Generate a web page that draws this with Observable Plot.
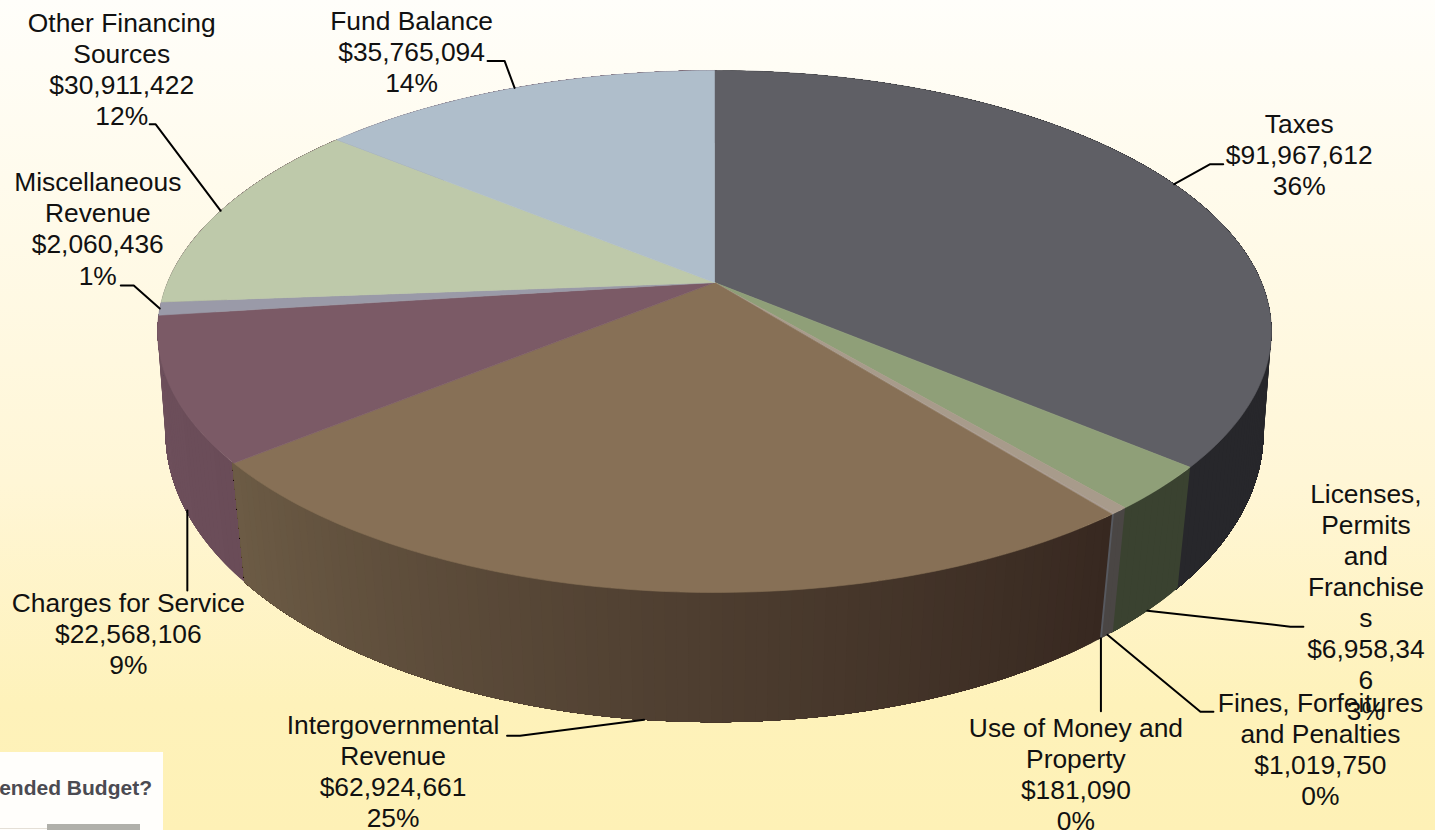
<!DOCTYPE html>
<html>
<head>
<meta charset="utf-8">
<script src="https://cdn.jsdelivr.net/npm/d3@7"></script>
<script src="https://cdn.jsdelivr.net/npm/@observablehq/plot@0.6"></script>
<style>
html,body{margin:0;padding:0;width:1435px;height:830px;overflow:hidden;background:linear-gradient(#fffefa 0%,#fff6d6 58%,#fef2ba 85%,#fef1b6 100%);}
#chart{position:absolute;left:0;top:0;}
#chart svg{background:transparent;display:block;}
#note{position:absolute;left:0;top:752px;width:163px;height:78px;background:#fffefb;overflow:hidden;}
#note span{position:absolute;right:11px;top:24px;white-space:nowrap;font:bold 21px "Liberation Sans",Arial,sans-serif;color:#4b4b52;}
#note i{position:absolute;left:47px;width:93px;top:72px;height:6px;background:#b0b0aa;}
#note b{position:absolute;left:0;width:47px;top:76px;height:1px;background:#e4dfd6;}
</style>
</head>
<body>
<div id="chart"></div>
<div id="note"><span>ended Budget?</span><b></b><i></i></div>
<script>
// ---- data
const names = ["Taxes","Licenses,\nPermits\nand\nFranchises","Fines, Forfeitures\nand Penalties","Use of Money and\nProperty","Intergovernmental\nRevenue","Charges for Service","Miscellaneous\nRevenue","Other Financing\nSources","Fund Balance"];
const values = [91967612,6958346,1019750,181090,62924661,22568106,2060436,30911422,35765094];
const topColors = ["#5f5f65","#8f9f78","#a89b8b","#a89a90","#877056","#7b5a66","#9a9aa8","#bec9aa","#afbecb"];
const sideColorsFrom = ["#27272b","#3a4230","#4a4644","#57595f","#372820","#6a4c58","#6e505c","#6e505c","#6e505c"];
const sideColorsTo   = ["#27272b","#3a4230","#4a4644","#57595f","#6c5b45","#6e505c","#6e505c","#6e505c","#6e505c"];
// leader routes and label centres as pixel offsets from each slice's rim point
const rimFace = ["top","bottom","bottom","bottom","bottom","bottom","top","top","top"];
const leaderRoute = [
  [[0,0],[36,-20],[49,-20]],
  [[0,0],[143,16],[156,16]],
  [[0,0],[93,77],[106,77]],
  [[0,0],[0,73]],
  [[0,0],[-124,16],[-137,16]],
  [[5,7],[5,87]],
  [[0,0],[-26,-23],[-39,-23]],
  [[0,0],[-65,-86.5],[-71,-86.5]],
  [[0,0],[-10,-27],[-27,-27]]
];
const labelOffset = [[125,-30],[218.5,-9],[213,113.5],[-25,135.5],[-251,51],[-54,129],[-62,-80.5],[-99,-142],[-103,-37]];

// ---- perspective view of the two discs of the cylinder
const topDisc = {cx:714, cy:282, b:547, a:251.8, k:0.1877};
const botDisc = {cx:714, cy:384, b:541.5, a:282, k:0.165};
function project(d, deg){
  const t = deg*Math.PI/180, u = Math.sin(t), v = Math.cos(t), s = 1/(1+d.k*v);
  return {x:d.cx+d.b*u*s, y:d.cy-d.a*v*s};
}

const total = d3.sum(values);
const cum = d3.cumsum(values);
const slices = values.map((v,i)=>({i, name:names[i], value:v,
  a0:(i?cum[i-1]:0)/total*360, a1:cum[i]/total*360}));
const arcAngles = (d0,d1)=>{
  const n = Math.max(1,Math.ceil(d1-d0));
  return d3.range(n+1).map(j=>d0+(d1-d0)*j/n);
};

// top faces: one polygon per slice
const topPts = [];
for(const s of slices){
  const c = topColors[s.i];
  topPts.push({z:s.i, x:topDisc.cx, y:topDisc.cy, c});
  for(const a of arcAngles(s.a0,s.a1)){
    const p = project(topDisc,a);
    topPts.push({z:s.i, x:p.x, y:p.y, c});
  }
  topPts.push({z:s.i, x:topDisc.cx, y:topDisc.cy, c});
}

// side wall: slices painted back to front; each slice is a stack of
// polygons that each reach to the slice's end, so no seams show between them
const sidePts = [];
let stripId = 0;
const backToFront = d3.sort(slices, s=>-Math.cos((s.a0+s.a1)/360*Math.PI));
for(const s of backToFront){
  const color = d3.interpolateLab(sideColorsFrom[s.i], sideColorsTo[s.i]);
  const end = s.a1+0.3;
  const n = Math.ceil(s.a1-s.a0);
  for(let j=0;j<n;j++){
    const d0 = s.a0+(s.a1-s.a0)*j/n;
    const c = color((j+.5)/n);
    const angles = arcAngles(d0,end);
    const ring = [...angles.map(a=>project(topDisc,a)),...angles.slice().reverse().map(a=>project(botDisc,a))];
    ring.push(ring[0]);
    ring.forEach(p=>sidePts.push({z:stripId,x:p.x,y:p.y,c}));
    stripId++;
  }
}

// leaders and labels
function hardWrap(text,width){
  return text.split("\n").map(l=>l.length<=width?l:l.match(new RegExp(".{1,"+width+"}","g")).join("\n")).join("\n");
}
const fmtMoney = d3.format("$,"), fmtPct = d3.format(".0%");
const leaderPts = [], labels = [];
for(const s of slices){
  const anchor = project(rimFace[s.i]==="top"?topDisc:botDisc,(s.a0+s.a1)/2);
  leaderRoute[s.i].forEach(o=>leaderPts.push({z:s.i,x:anchor.x+o[0],y:anchor.y+o[1]}));
  let t = s.name+"\n"+fmtMoney(s.value);
  if(s.i===1) t = hardWrap(t,9);
  labels.push({x:anchor.x+labelOffset[s.i][0],y:anchor.y+labelOffset[s.i][1],text:t+"\n"+fmtPct(s.value/total)});
}

const chart = Plot.plot({
  width:1435, height:830, margin:0,
  x:{domain:[0,1435],range:[0,1435],axis:null},
  y:{domain:[0,830],range:[0,830],axis:null},
  color:{type:"identity"},
  style:{background:"transparent"},
  marks:[
    Plot.line(sidePts,{x:"x",y:"y",z:"z",fill:"c",stroke:"none",curve:"linear"}),
    Plot.line(topPts,{x:"x",y:"y",z:"z",fill:"c",stroke:"c",strokeWidth:0.6,curve:"linear"}),
    Plot.line(leaderPts,{x:"x",y:"y",z:"z",stroke:"#000",strokeWidth:2,curve:"linear"}),
    Plot.text(labels,{x:"x",y:"y",text:"text",fontFamily:"Liberation Sans",fontSize:26.4,lineHeight:1.175,fill:"#111",textAnchor:"middle",lineAnchor:"middle"})
  ]
});
document.getElementById("chart").append(chart);
</script>
</body>
</html>
